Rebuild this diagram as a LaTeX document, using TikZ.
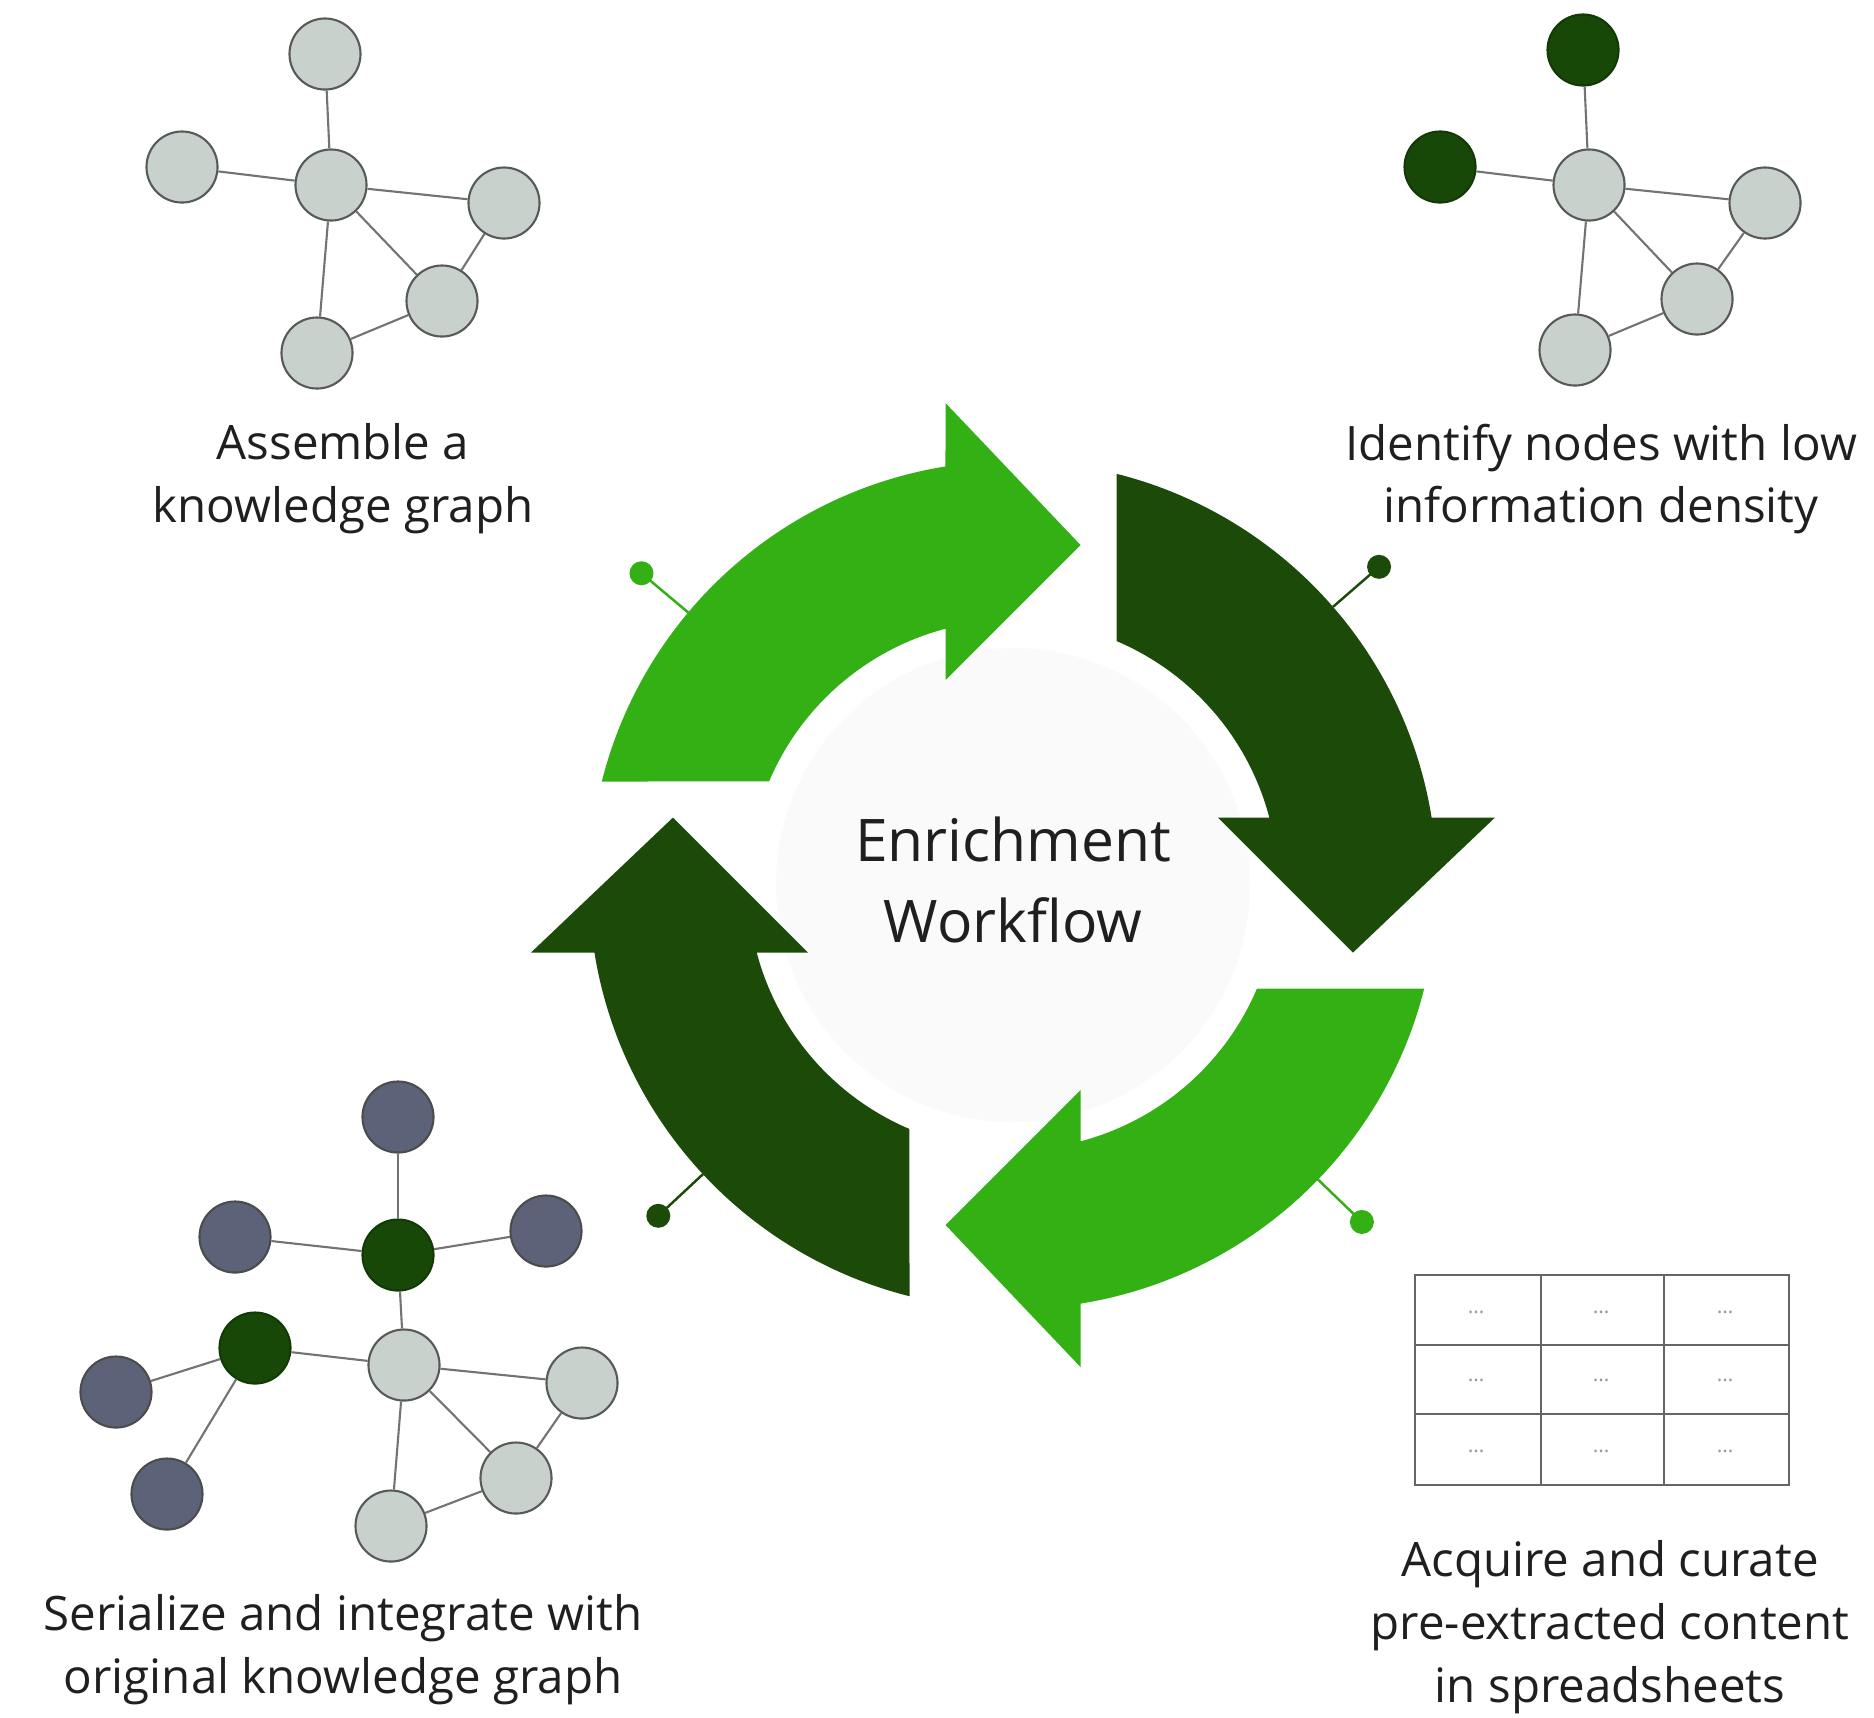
\documentclass[tikz,border=0pt]{standalone}
\usepackage{fontspec}
\setmainfont{Open Sans}
\usetikzlibrary{calc}
\definecolor{cyclelight}{RGB}{50,176,20}
\definecolor{cycledark}{RGB}{27,74,9}
\definecolor{kglight}{RGB}{200,209,204}
\definecolor{kgdark}{RGB}{24,72,8}
\definecolor{kgblue}{RGB}{92,98,120}
\tikzset{
  kgnode/.style={circle, draw=black!65, line width=0.6pt, fill=kglight, minimum size=7.1mm, inner sep=0pt},
  kgseed/.style={kgnode, fill=kgdark, draw=kgdark!80!black},
  kgfresh/.style={kgnode, fill=kgblue, draw=black!70},
  kgedge/.style={draw=black!55, line width=0.6pt},
  steplabel/.style={align=center, text=black!88, inner sep=0pt, font=\fontsize{13.5}{17.9}\selectfont},
  hublabel/.style={align=center, text=black!88, inner sep=0pt, font=\fontsize{16.7}{23}\selectfont},
  cellrule/.style={draw=black!60, line width=0.5pt},
  celldots/.style={text=black!40, font=\fontsize{6}{7}\selectfont},
  pics/looparrow/.style={code={
    \fill[#1] (-411.2,-103.5) arc[start angle=-165.87, end angle=-99.16, radius=424]
      -- (-67.5,-482) -- (67.5,-340) -- (-67.5,-205) -- (-67.5,-256.3)
      arc[start angle=-104.76, end angle=-157.0, radius=265] -- cycle;
  }}
}

\begin{document}
\begin{tikzpicture}[x=0.01cm, y=-0.01cm]
\useasboundingbox (0,0) rectangle (1874,1717);
\coordinate (centre) at (1013,885);

% cycle
\fill[black!2] (centre) circle[radius=237];
\pic[rotate=0] at (centre) {looparrow=cyclelight};
\pic[rotate=-90] at (centre) {looparrow=cycledark};
\pic[rotate=-180] at (centre) {looparrow=cyclelight};
\pic[rotate=-270] at (centre) {looparrow=cycledark};
\foreach \ang/\col in {140/cyclelight, 41/cycledark, 223/cycledark, 316/cyclelight} {
  \draw[\col, line width=0.7pt] ($(centre)+(-\ang:424)$) -- ($(centre)+(-\ang:485)$);
  \fill[\col] ($(centre)+(-\ang:485)$) circle[radius=12];
}
\node[hublabel] (hub) at (1013,880) {Enrichment\\Workflow};

% assemble graph
\node[kgnode] (asmTop) at (325,54) {};
\node[kgnode] (asmLeft) at (182,167) {};
\node[kgnode] (asmHub) at (331,185) {};
\node[kgnode] (asmRight) at (504,203) {};
\node[kgnode] (asmLow) at (442,301) {};
\node[kgnode] (asmBottom) at (317,353) {};
\foreach \a/\b in {asmTop/asmHub, asmLeft/asmHub, asmHub/asmRight, asmHub/asmLow, asmHub/asmBottom, asmRight/asmLow, asmLow/asmBottom}
  \draw[kgedge] (\a) -- (\b);
\node[steplabel] (asmText) at (343,479) {Assemble a\\knowledge graph};

% identify graph
\node[kgseed] (idfTop) at (1583,50) {};
\node[kgseed] (idfLeft) at (1440,167) {};
\node[kgnode] (idfHub) at (1589,185) {};
\node[kgnode] (idfRight) at (1765,203) {};
\node[kgnode] (idfLow) at (1697,299) {};
\node[kgnode] (idfBottom) at (1575,350) {};
\foreach \a/\b in {idfTop/idfHub, idfLeft/idfHub, idfHub/idfRight, idfHub/idfLow, idfHub/idfBottom, idfRight/idfLow, idfLow/idfBottom}
  \draw[kgedge] (\a) -- (\b);
\node[steplabel] (idfText) at (1601,479) {Identify nodes with low\\information density};

% spreadsheet
\draw[cellrule] (1415,1275) rectangle (1789,1485);
\foreach \cx in {1541,1664}
  \draw[cellrule] (\cx,1275) -- (\cx,1485);
\foreach \cy in {1345,1414}
  \draw[cellrule] (1415,\cy) -- (1789,\cy);
\foreach \cx in {1476,1601,1725}
  \foreach \cy in {1312,1380,1451}
    \node[celldots] at (\cx,\cy) {\ldots};
\node[steplabel] (acqText) at (1610,1627) {Acquire and curate\\pre-extracted content\\in spreadsheets};

% serialize graph
\node[kgfresh] (serTop) at (398,1117) {};
\node[kgfresh] (serLeft) at (235,1237) {};
\node[kgseed] (serSeedA) at (398,1255) {};
\node[kgfresh] (serRight) at (546,1231) {};
\node[kgseed] (serSeedB) at (255,1348) {};
\node[kgnode] (serHub) at (404,1365) {};
\node[kgnode] (serHubRight) at (582,1383) {};
\node[kgnode] (serLow) at (516,1478) {};
\node[kgnode] (serBottom) at (391,1526) {};
\node[kgfresh] (serFarLeft) at (116,1392) {};
\node[kgfresh] (serFarLow) at (167,1494) {};
\foreach \a/\b in {serTop/serSeedA, serLeft/serSeedA, serSeedA/serRight, serSeedA/serHub, serSeedB/serHub, serSeedB/serFarLeft, serSeedB/serFarLow, serHub/serHubRight, serHub/serLow, serHub/serBottom, serHubRight/serLow, serLow/serBottom}
  \draw[kgedge] (\a) -- (\b);
\node[steplabel] (serText) at (343,1650) {Serialize and integrate with\\original knowledge graph};
\end{tikzpicture}
\end{document}
